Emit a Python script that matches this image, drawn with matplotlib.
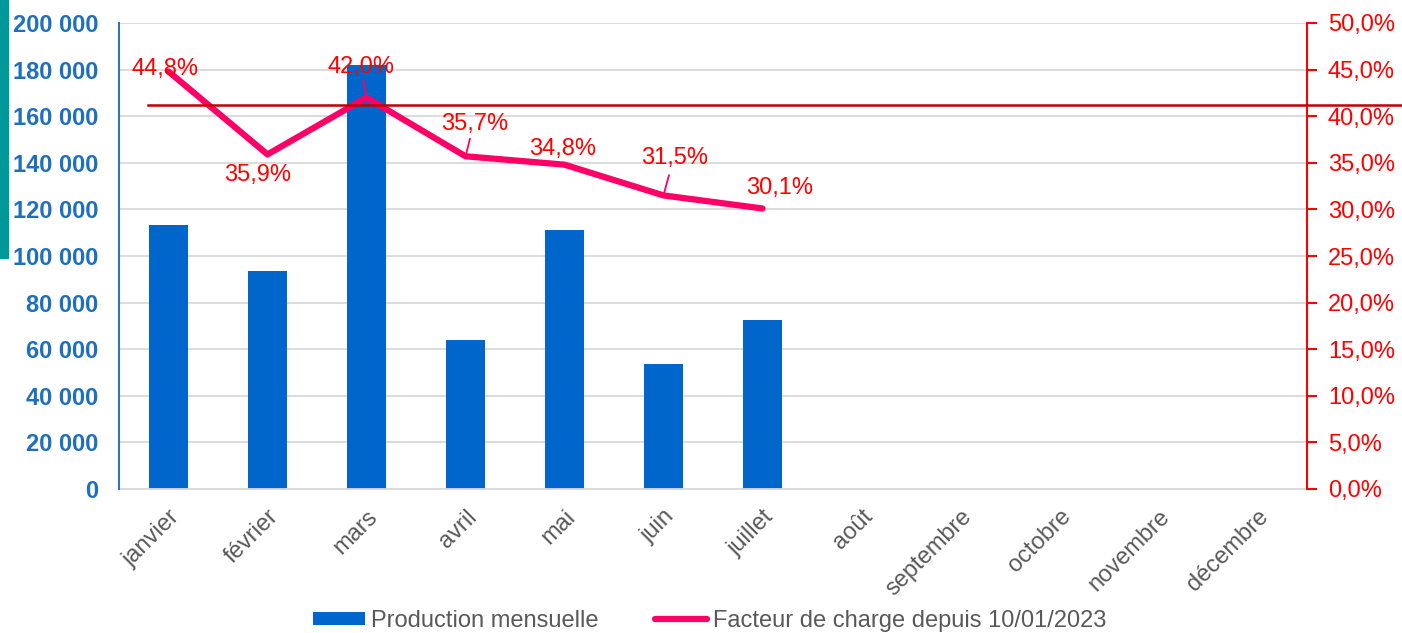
import matplotlib.pyplot as plt
from matplotlib.patches import Rectangle
from matplotlib.ticker import FuncFormatter, MultipleLocator

plt.rcParams['font.family'] = ['Liberation Sans', 'DejaVu Sans']

mois = ['janvier', 'février', 'mars', 'avril', 'mai', 'juin', 'juillet',
        'août', 'septembre', 'octobre', 'novembre', 'décembre']
production = [113300, 93600, 182000, 64000, 111200, 53600, 72400]
facteur = [44.8, 35.9, 42.0, 35.7, 34.8, 31.5, 30.1]
seuil = 41.2
# label offsets (pixels) relative to each point
label_off = [(-4, 2), (-10, -21), (-6, 31), (9, 32), (-2, 16), (11, 37), (17, 20)]
leaders = [False, False, True, True, False, True, False]

fig = plt.figure(figsize=(14.02, 6.33), dpi=100)
W, H = 1402, 633
ax = fig.add_axes([119 / W, 1 - 489 / H, (1307 - 119) / W, (489 - 23) / H])
ax2 = ax.twinx()

fig.patches.append(Rectangle((0, 1 - 258 / H), 8 / W, 258 / H,
                             transform=fig.transFigure, color='#009999'))

x = list(range(len(mois)))
bars = ax.bar(x[:len(production)], production, width=0.4, color='#0066CC',
              label='Production mensuelle', zorder=2)
ax.set_xlim(-0.5, 11.5)
ax.set_ylim(0, 200000)
ax.yaxis.set_major_locator(MultipleLocator(20000))
ax.yaxis.set_major_formatter(FuncFormatter(lambda v, p: f'{int(v):,}'.replace(',', ' ')))
ax.grid(axis='y', color='#D9D9D9', linewidth=1.3, zorder=0)
ax.set_axisbelow(True)
ax.tick_params(axis='y', length=0, labelsize=17, labelcolor='#1F6FBF', pad=15)
for t in ax.get_yticklabels():
    t.set_fontweight('bold')
ax.set_xticks(x)
ax.set_xticklabels(mois, rotation=45, ha='right', rotation_mode='anchor',
                   fontsize=17, color='#595959')
ax.tick_params(axis='x', length=0, pad=12)

for s in ['top', 'right']:
    ax.spines[s].set_visible(False)
ax.spines['left'].set_color('#2E75B6')
ax.spines['left'].set_linewidth(1.5)
ax.spines['left'].set_zorder(5)
ax.spines['bottom'].set_color('#D9D9D9')
ax.spines['bottom'].set_linewidth(1.3)

line, = ax2.plot(x[:len(facteur)], facteur, color='#FF0066', linewidth=4.5,
                 solid_capstyle='round', label='Facteur de charge depuis 10/01/2023', zorder=3)
ax2.plot([-0.21, 12.6], [seuil, seuil], color='#C00000', linewidth=1.8, clip_on=False, zorder=3)
ax2.set_ylim(0, 50)
ax2.yaxis.set_major_locator(MultipleLocator(5))
ax2.yaxis.set_major_formatter(FuncFormatter(lambda v, p: f'{v:.1f}%'.replace('.', ',')))
ax2.tick_params(axis='y', colors='#FF0000', labelsize=17, length=7, width=1.5, pad=8)
for s in ['top', 'left', 'bottom']:
    ax2.spines[s].set_visible(False)
ax2.spines['right'].set_color('#FF0000')
ax2.spines['right'].set_linewidth(1.5)

for i, v in enumerate(facteur):
    dx, dy = label_off[i]
    ax2.annotate(f'{v:.1f}%'.replace('.', ','), (i, v), xytext=(dx, dy),
                 textcoords='offset pixels', ha='center', va='center',
                 fontsize=17, color='#FF0000', zorder=4)
    if leaders[i]:
        ax2.annotate('', (i, v), xytext=(dx * 0.5, dy * 0.55),
                     textcoords='offset pixels',
                     arrowprops=dict(arrowstyle='-', color='#FF0066', lw=1.3,
                                     shrinkA=0, shrinkB=2))

leg = fig.legend([bars, line], ['Production mensuelle', 'Facteur de charge depuis 10/01/2023'],
                 loc='center', bbox_to_anchor=(710 / W, 1 - 621 / H), ncol=2, frameon=False,
                 fontsize=17, labelcolor='#595959', handlelength=2.2, handleheight=0.5,
                 columnspacing=2.4, handletextpad=0.25)
leg.get_lines()[0].set_solid_capstyle('round')

fig.savefig('out.png', dpi=100)
